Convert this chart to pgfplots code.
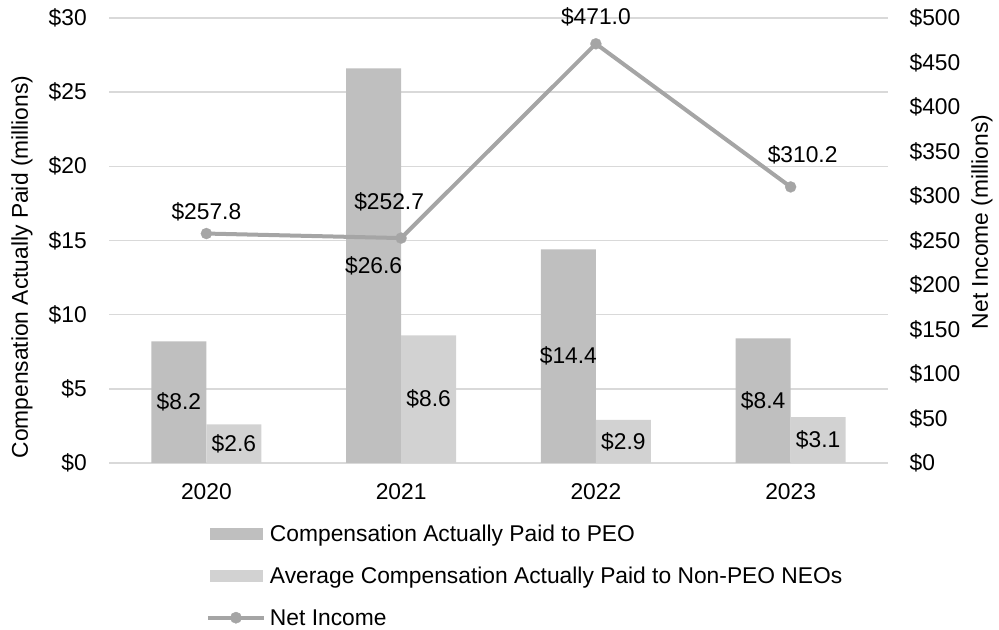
\documentclass[border=0pt]{standalone}
\usepackage{fontspec}
\setmainfont{Liberation Sans}
\usepackage{pgfplots}
\pgfplotsset{compat=1.18}
\definecolor{peo}{HTML}{BFBFBF}
\definecolor{neo}{HTML}{D2D2D2}
\definecolor{net}{HTML}{A5A5A5}
\definecolor{gridc}{HTML}{D9D9D9}

\pgfplotsset{
  common/.style={
    at={(81.75pt,125.25pt)}, anchor=south west,
    scale only axis, width=584.25pt, height=333.75pt,
    xmin=-0.5, xmax=3.5,
    axis line style={draw=none}, major tick length=0pt,
    /pgf/number format/assume math mode=true,
    clip=false,
  },
}

\begin{document}
\begin{tikzpicture}[font=\fontsize{17.1}{20}\selectfont]
\path[use as bounding box] (0,0) rectangle (749.25pt,472.5pt);

% left axis: bars
\begin{axis}[
  common,
  ymin=0, ymax=30, ytick distance=5,
  xtick={0,1,2,3}, xticklabels={2020,2021,2022,2023},
  ymajorgrids, grid style={gridc, line width=1.1pt},
  yticklabel={\$\pgfmathprintnumber{\tick}},
  yticklabel style={anchor=east, inner sep=0pt, xshift=-16.5pt},
  xticklabel style={anchor=center, inner sep=0pt, yshift=-21.75pt},
  ylabel={Compensation Actually Paid (millions)},
  every axis y label/.style={at={(axis description cs:0,0.5)}, xshift=-65.25pt, yshift=-19.9pt, rotate=90, anchor=center},
  legend style={at={(rel axis cs:0.1245,-0.1393)}, anchor=north west, draw=none, fill=none,
    inner sep=0pt, outer sep=0pt, row sep=15pt,
    nodes={inner sep=0pt, text height=12.5pt, text depth=4pt, anchor=west},
    /tikz/every odd column/.style={column sep=3pt}},
  legend cell align=left,
  bar width=41.25pt,
  visualization depends on={rawy \as \ry},
  nodes near coords={\$\pgfmathprintnumber[fixed, fixed zerofill, precision=1]{\pgfplotspointmeta}},
  every node near coord/.append style={text=black, anchor=center, yshift=-5.5625pt*\ry},
]
\addplot[ybar, bar shift=-20.625pt, fill=peo, draw=none,
  every node near coord/.append style={xshift=-20.625pt},
  legend image code/.code={\fill[peo] (0pt,-2.8pt) rectangle (39.75pt,6.2pt);}]
  coordinates {(0,8.2) (1,26.6) (2,14.4) (3,8.4)};
\addlegendentry{Compensation Actually Paid to PEO}
\addplot[ybar, bar shift=20.625pt, fill=neo, draw=none,
  every node near coord/.append style={xshift=20.625pt},
  legend image code/.code={\fill[neo] (0pt,-2.8pt) rectangle (39.75pt,6.2pt);}]
  coordinates {(0,2.6) (1,8.6) (2,2.9) (3,3.1)};
\addlegendentry{Average Compensation Actually Paid to Non-PEO NEOs}
\addlegendimage{legend image code/.code={\draw[net, line width=3pt] (-1.5pt,1.7pt) -- (40.5pt,1.7pt); \fill[net] (19.5pt,1.7pt) circle (4.2pt);}}
\addlegendentry{Net Income}
\end{axis}

% right axis: net income line
\begin{axis}[
  common,
  ymin=0, ymax=500, ytick distance=50,
  axis x line=none, axis y line*=right,
  yticklabel={\$\pgfmathprintnumber{\tick}},
  yticklabel style={anchor=west, inner sep=0pt, xshift=16pt},
  ylabel={Net Income (millions)},
  every axis y label/.style={at={(axis description cs:1,0.5)}, xshift=70.5pt, yshift=13.9pt, rotate=90, anchor=center},
]
\addplot[net, line width=3pt, mark=*, mark size=4.2pt, mark options={solid, fill=net, draw=net, line width=0.1pt},
  visualization depends on={\thisrow{dx} \as \ldx},
  visualization depends on={\thisrow{dy} \as \ldy},
  nodes near coords={\$\pgfmathprintnumber[fixed, fixed zerofill, precision=1]{\pgfplotspointmeta}},
  every node near coord/.append style={text=black, anchor=center, xshift=\ldx pt, yshift=\ldy pt}]
  table[row sep=\\] {
    x y dx dy \\
    0 257.8 0 16.5 \\
    1 252.7 -9 27 \\
    2 471.0 0 20 \\
    3 310.2 9 24 \\
  };
\end{axis}
\end{tikzpicture}
\end{document}
